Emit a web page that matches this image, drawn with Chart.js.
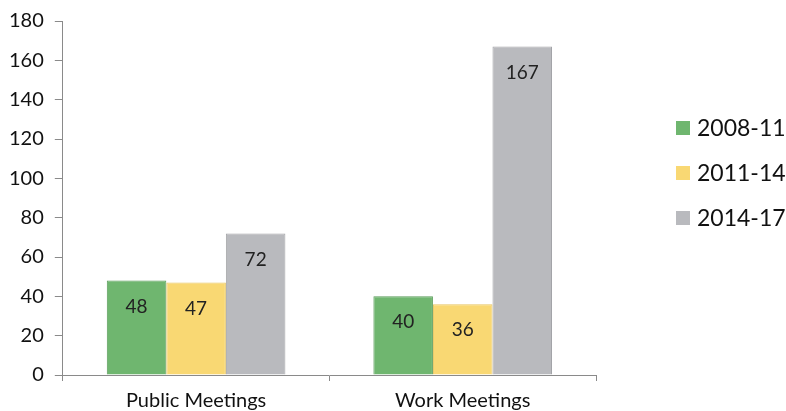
<!DOCTYPE html>
<html>
<head>
<meta charset="utf-8">
<script src="https://cdn.jsdelivr.net/npm/chart.js@4"></script>
<style>
html,body{margin:0;padding:0;background:#fff;}
#wrap{width:786px;height:411px;position:relative;}
</style>
</head>
<body>
<div id="wrap"><canvas id="c" width="786" height="411"></canvas></div>
<script>
const categories = ["Public Meetings", "Work Meetings"];
const seriesNames = ["2008-11", "2011-14", "2014-17"];
const values2008 = [48, 40];
const values2011 = [47, 36];
const values2014 = [72, 167];
const yTicks = [0, 20, 40, 60, 80, 100, 120, 140, 160, 180];

const fills = ["#6fb66f", "#f9d873", "#b9babe"];
const borders = ["#5a9c5a", "#e8c560", "#a3a4a8"];
const FONT = "Lato, 'Open Sans', sans-serif";

const legendAndLabels = {
  id: "legendAndLabels",
  afterDatasetsDraw(chart) {
    const ctx = chart.ctx;
    ctx.save();
    ctx.font = "19px " + FONT;
    ctx.fillStyle = "#222";
    ctx.textAlign = "center";
    ctx.textBaseline = "middle";
    chart.data.datasets.forEach((ds, i) => {
      const meta = chart.getDatasetMeta(i);
      meta.data.forEach((bar, j) => {
        ctx.fillText(String(ds.data[j]), bar.x, bar.y + 26);
      });
    });
    // legend
    ctx.font = "23px " + FONT;
    ctx.textAlign = "left";
    chart.data.datasets.forEach((ds, i) => {
      const cy = 128 + i * 45;
      ctx.fillStyle = ds.backgroundColor;
      ctx.fillRect(676, cy - 7, 14, 14);
      ctx.fillStyle = "#111";
      ctx.fillText(ds.label, 697, cy + 1);
    });
    ctx.restore();
  }
};

new Chart(document.getElementById("c"), {
  type: "bar",
  data: {
    labels: categories,
    datasets: [values2008, values2011, values2014].map((d, i) => ({
      label: seriesNames[i],
      data: d,
      backgroundColor: fills[i],
      borderColor: borders[i],
      borderWidth: 1,
      categoryPercentage: 0.67,
      barPercentage: 1.0
    }))
  },
  options: {
    responsive: false,
    animation: false,
    devicePixelRatio: 1,
    layout: { padding: { left: -2, right: 190, top: 9, bottom: -10 } },
    plugins: { legend: { display: false }, tooltip: { enabled: false } },
    scales: {
      y: {
        min: 0, max: 180,
        afterBuildTicks: (axis) => { axis.ticks = yTicks.map(v => ({ value: v })); },
        ticks: { font: { size: 20, family: FONT, lineHeight: 1.0 }, color: "#111", padding: 11 },
        grid: { drawOnChartArea: false, drawTicks: true, tickLength: 8, color: "#8a8a8a" },
        border: { display: true, color: "#8a8a8a", width: 1 }
      },
      x: {
        offset: true,
        ticks: { font: { size: 20, family: FONT }, color: "#111", padding: 8 },
        grid: { offset: true, drawOnChartArea: false, drawTicks: true, tickLength: 6, color: "#8a8a8a" },
        border: { display: true, color: "#8a8a8a", width: 1 }
      }
    }
  },
  plugins: [legendAndLabels]
});
</script>
</body>
</html>
